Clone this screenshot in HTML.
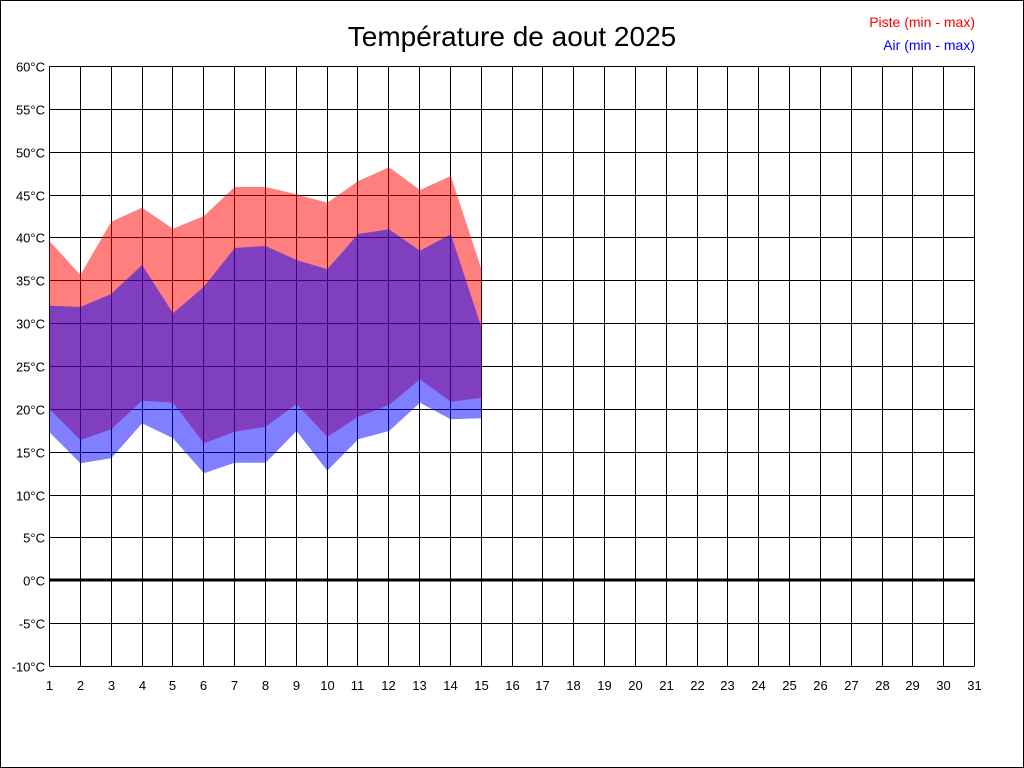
<!DOCTYPE html>
<html><head><meta charset="utf-8"><style>
html,body{margin:0;padding:0;background:#fff}
svg{display:block}
text{font-family:"Liberation Sans",sans-serif}
</style></head><body>
<svg width="1024" height="768" viewBox="0 0 1024 768" xmlns="http://www.w3.org/2000/svg">
<rect x="0.5" y="0.5" width="1023" height="767" fill="#fff" stroke="#000"/>
<text x="512" y="46" font-size="28" text-anchor="middle">Température de aout 2025</text>
<text x="975" y="27" font-size="14" text-anchor="end" fill="#f00">Piste (min - max)</text>
<text x="975" y="50" font-size="14" text-anchor="end" fill="#00f">Air (min - max)</text>
<g id="grid" stroke="#000" stroke-width="1"></g>
<g id="lab" font-size="13"></g>
<polygon fill="#ff0000" fill-opacity="0.5" points="49.5,241 80.4,275 111.2,221.7 142.1,207.7 173,228.7 203.9,216 234.7,187 265.6,187 296.5,194.3 327.3,202.7 358.2,181 389.1,167.3 420,190 450.8,176 481.7,270 481.7,397.7 450.8,401.7 420,379.3 389.1,405 358.2,416.7 327.3,436.7 296.5,404 265.6,426.7 234.7,431.7 203.9,443.3 173,402.7 142.1,400.7 111.2,429.3 80.4,440 49.5,409"/>
<polygon fill="#0000ff" fill-opacity="0.5" points="49.5,305.7 80.4,307 111.2,294 142.1,265 173,313.3 203.9,286.7 234.7,248 265.6,246 296.5,260 327.3,269.3 358.2,234 389.1,229.3 420,250.7 450.8,234.3 481.7,328.3 481.7,418.3 450.8,419.3 420,402.7 389.1,431 358.2,439.3 327.3,470.7 296.5,431 265.6,462.7 234.7,462.7 203.9,473.3 173,438.3 142.1,423.3 111.2,458.3 80.4,463.3 49.5,432.3"/>
<line x1="49.5" y1="580" x2="974.5" y2="580" stroke="#000" stroke-width="3"/>
<script>
var g=document.getElementById('grid'),l=document.getElementById('lab'),ns='http://www.w3.org/2000/svg';
function el(p,t,a,txt){var e=document.createElementNS(ns,t);for(var k in a)e.setAttribute(k,a[k]);if(txt)e.textContent=txt;p.appendChild(e);}
for(var d=1;d<=31;d++){var x=49.5+(d-1)*(925/30);x=Math.round(x-0.5)+0.5;
el(g,'line',{x1:x,y1:66,x2:x,y2:666});
el(l,'text',{x:x,y:690,'text-anchor':'middle'},''+d);}
for(var i=0;i<=14;i++){var v=60-5*i;var y=Math.round(66+i*600/14)+0.5;
el(g,'line',{x1:49.5,y1:y,x2:974.5,y2:y});
el(l,'text',{x:45,y:y+5,'text-anchor':'end'},v+'°C');}
</script>
</svg>
</body></html>
